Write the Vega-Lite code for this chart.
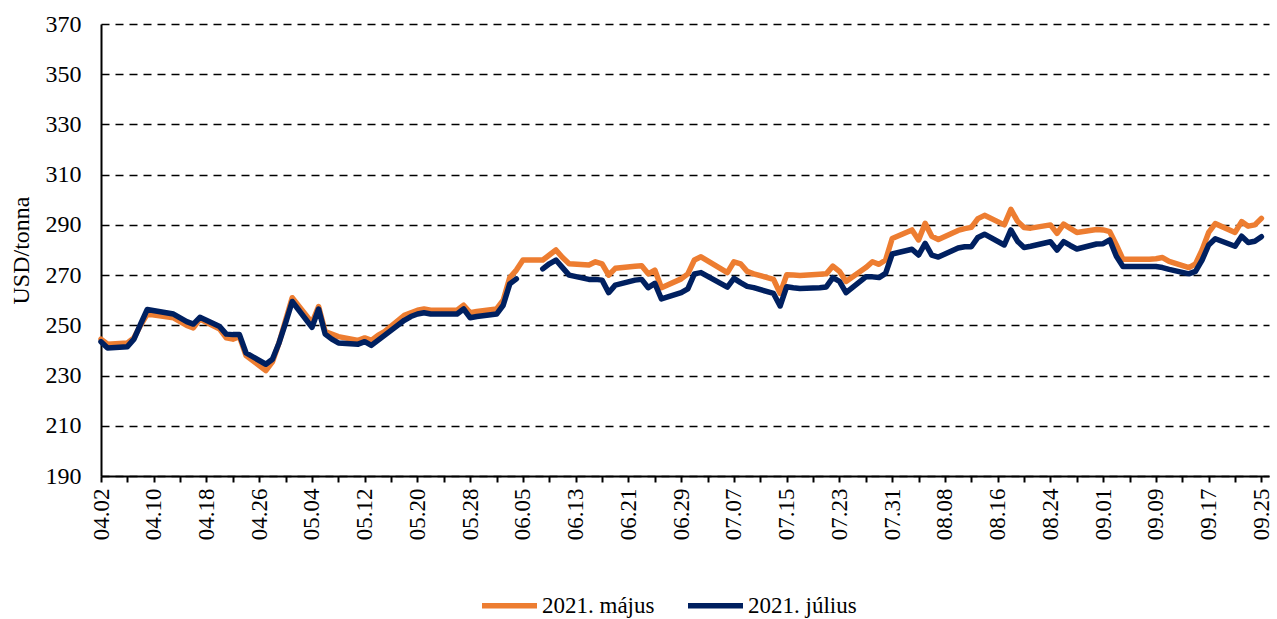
{
 "$schema": "https://vega.github.io/schema/vega-lite/v6.json",
 "width": 1168, "height": 452,
 "autosize": {"type": "none"},
 "padding": {"left": 101, "top": 24, "right": 8, "bottom": 143},
 "background": "white",
 "config": {"font": "Liberation Serif", "view": {"stroke": null}},
 "data": {"values": [
  {"date":"2020-04-02","s":"2021. május","v":244.5},{"date":"2020-04-03","s":"2021. május","v":242.5},{"date":"2020-04-06","s":"2021. május","v":243},{"date":"2020-04-07","s":"2021. május","v":245},{"date":"2020-04-08","s":"2021. május","v":250},{"date":"2020-04-09","s":"2021. május","v":254.5},{"date":"2020-04-13","s":"2021. május","v":253},{"date":"2020-04-14","s":"2021. május","v":251.5},{"date":"2020-04-15","s":"2021. május","v":250},{"date":"2020-04-16","s":"2021. május","v":249},{"date":"2020-04-17","s":"2021. május","v":252.5},{"date":"2020-04-20","s":"2021. május","v":248.5},{"date":"2020-04-21","s":"2021. május","v":245},{"date":"2020-04-22","s":"2021. május","v":244.5},{"date":"2020-04-23","s":"2021. május","v":245.5},{"date":"2020-04-24","s":"2021. május","v":238},{"date":"2020-04-27","s":"2021. május","v":232},{"date":"2020-04-28","s":"2021. május","v":235.5},{"date":"2020-04-29","s":"2021. május","v":243},{"date":"2020-04-30","s":"2021. május","v":252},
  {"date":"2020-05-01","s":"2021. május","v":261},{"date":"2020-05-04","s":"2021. május","v":251},{"date":"2020-05-05","s":"2021. május","v":257.5},{"date":"2020-05-06","s":"2021. május","v":247.5},{"date":"2020-05-07","s":"2021. május","v":246.5},{"date":"2020-05-08","s":"2021. május","v":245.5},{"date":"2020-05-11","s":"2021. május","v":244},{"date":"2020-05-12","s":"2021. május","v":245},{"date":"2020-05-13","s":"2021. május","v":244},{"date":"2020-05-14","s":"2021. május","v":246},{"date":"2020-05-15","s":"2021. május","v":247.5},{"date":"2020-05-18","s":"2021. május","v":254},{"date":"2020-05-19","s":"2021. május","v":255},{"date":"2020-05-20","s":"2021. május","v":256},{"date":"2020-05-21","s":"2021. május","v":256.5},{"date":"2020-05-22","s":"2021. május","v":256},{"date":"2020-05-26","s":"2021. május","v":256},{"date":"2020-05-27","s":"2021. május","v":258},{"date":"2020-05-28","s":"2021. május","v":255},{"date":"2020-05-29","s":"2021. május","v":255.5},
  {"date":"2020-06-01","s":"2021. május","v":256.5},{"date":"2020-06-02","s":"2021. május","v":260},{"date":"2020-06-03","s":"2021. május","v":269},{"date":"2020-06-04","s":"2021. május","v":272},{"date":"2020-06-05","s":"2021. május","v":276},{"date":"2020-06-08","s":"2021. május","v":276},{"date":"2020-06-09","s":"2021. május","v":278},{"date":"2020-06-10","s":"2021. május","v":280},{"date":"2020-06-11","s":"2021. május","v":277},{"date":"2020-06-12","s":"2021. május","v":274.5},{"date":"2020-06-15","s":"2021. május","v":274},{"date":"2020-06-16","s":"2021. május","v":275.3},{"date":"2020-06-17","s":"2021. május","v":274.5},{"date":"2020-06-18","s":"2021. május","v":270},{"date":"2020-06-19","s":"2021. május","v":272.7},{"date":"2020-06-22","s":"2021. május","v":273.5},{"date":"2020-06-23","s":"2021. május","v":273.7},{"date":"2020-06-24","s":"2021. május","v":270.5},{"date":"2020-06-25","s":"2021. május","v":272},{"date":"2020-06-26","s":"2021. május","v":265},{"date":"2020-06-29","s":"2021. május","v":268.5},{"date":"2020-06-30","s":"2021. május","v":270.5},
  {"date":"2020-07-01","s":"2021. május","v":276},{"date":"2020-07-02","s":"2021. május","v":277.3},{"date":"2020-07-06","s":"2021. május","v":271},{"date":"2020-07-07","s":"2021. május","v":275.3},{"date":"2020-07-08","s":"2021. május","v":274.5},{"date":"2020-07-09","s":"2021. május","v":271.5},{"date":"2020-07-10","s":"2021. május","v":270.5},{"date":"2020-07-13","s":"2021. május","v":268.3},{"date":"2020-07-14","s":"2021. május","v":262.7},{"date":"2020-07-15","s":"2021. május","v":270.1},{"date":"2020-07-16","s":"2021. május","v":270},{"date":"2020-07-17","s":"2021. május","v":269.8},{"date":"2020-07-20","s":"2021. május","v":270.3},{"date":"2020-07-21","s":"2021. május","v":270.5},{"date":"2020-07-22","s":"2021. május","v":273.6},{"date":"2020-07-23","s":"2021. május","v":271.5},{"date":"2020-07-24","s":"2021. május","v":267.5},{"date":"2020-07-27","s":"2021. május","v":273},{"date":"2020-07-28","s":"2021. május","v":275.3},{"date":"2020-07-29","s":"2021. május","v":274.3},{"date":"2020-07-30","s":"2021. május","v":276},{"date":"2020-07-31","s":"2021. május","v":284.6},
  {"date":"2020-08-03","s":"2021. május","v":288},{"date":"2020-08-04","s":"2021. május","v":284},{"date":"2020-08-05","s":"2021. május","v":290.6},{"date":"2020-08-06","s":"2021. május","v":285.5},{"date":"2020-08-07","s":"2021. május","v":284.2},{"date":"2020-08-10","s":"2021. május","v":287.8},{"date":"2020-08-11","s":"2021. május","v":288.5},{"date":"2020-08-12","s":"2021. május","v":289},{"date":"2020-08-13","s":"2021. május","v":292.5},{"date":"2020-08-14","s":"2021. május","v":293.8},{"date":"2020-08-17","s":"2021. május","v":290},{"date":"2020-08-18","s":"2021. május","v":296.2},{"date":"2020-08-19","s":"2021. május","v":291.5},{"date":"2020-08-20","s":"2021. május","v":289},{"date":"2020-08-21","s":"2021. május","v":288.7},{"date":"2020-08-24","s":"2021. május","v":290},{"date":"2020-08-25","s":"2021. május","v":286.6},{"date":"2020-08-26","s":"2021. május","v":290.3},{"date":"2020-08-27","s":"2021. május","v":288.6},{"date":"2020-08-28","s":"2021. május","v":287},{"date":"2020-08-31","s":"2021. május","v":288.2},
  {"date":"2020-09-01","s":"2021. május","v":288},{"date":"2020-09-02","s":"2021. május","v":287.3},{"date":"2020-09-03","s":"2021. május","v":282},{"date":"2020-09-04","s":"2021. május","v":276.3},{"date":"2020-09-08","s":"2021. május","v":276.3},{"date":"2020-09-09","s":"2021. május","v":276.5},{"date":"2020-09-10","s":"2021. május","v":277},{"date":"2020-09-11","s":"2021. május","v":275.5},{"date":"2020-09-14","s":"2021. május","v":273},{"date":"2020-09-15","s":"2021. május","v":274.5},{"date":"2020-09-16","s":"2021. május","v":280},{"date":"2020-09-17","s":"2021. május","v":287},{"date":"2020-09-18","s":"2021. május","v":290.5},{"date":"2020-09-21","s":"2021. május","v":287},{"date":"2020-09-22","s":"2021. május","v":291.3},{"date":"2020-09-23","s":"2021. május","v":289.5},{"date":"2020-09-24","s":"2021. május","v":290},{"date":"2020-09-25","s":"2021. május","v":292.6},

  {"date":"2020-04-02","s":"2021. július","v":243.5},{"date":"2020-04-03","s":"2021. július","v":241},{"date":"2020-04-06","s":"2021. július","v":241.5},{"date":"2020-04-07","s":"2021. július","v":244.5},{"date":"2020-04-08","s":"2021. július","v":250.5},{"date":"2020-04-09","s":"2021. július","v":256.3},{"date":"2020-04-13","s":"2021. július","v":254.5},{"date":"2020-04-14","s":"2021. július","v":253},{"date":"2020-04-15","s":"2021. július","v":251.5},{"date":"2020-04-16","s":"2021. július","v":250.5},{"date":"2020-04-17","s":"2021. július","v":253.2},{"date":"2020-04-20","s":"2021. július","v":249.5},{"date":"2020-04-21","s":"2021. július","v":246.5},{"date":"2020-04-22","s":"2021. július","v":246.3},{"date":"2020-04-23","s":"2021. július","v":246.3},{"date":"2020-04-24","s":"2021. július","v":239},{"date":"2020-04-27","s":"2021. július","v":234.5},{"date":"2020-04-28","s":"2021. július","v":236.5},{"date":"2020-04-29","s":"2021. július","v":243},{"date":"2020-04-30","s":"2021. július","v":251},
  {"date":"2020-05-01","s":"2021. július","v":259.5},{"date":"2020-05-04","s":"2021. július","v":249.2},{"date":"2020-05-05","s":"2021. július","v":256.5},{"date":"2020-05-06","s":"2021. július","v":246.5},{"date":"2020-05-07","s":"2021. július","v":244.5},{"date":"2020-05-08","s":"2021. július","v":243},{"date":"2020-05-11","s":"2021. július","v":242.5},{"date":"2020-05-12","s":"2021. július","v":243.5},{"date":"2020-05-13","s":"2021. július","v":242},{"date":"2020-05-14","s":"2021. július","v":244},{"date":"2020-05-15","s":"2021. július","v":246},{"date":"2020-05-18","s":"2021. július","v":252},{"date":"2020-05-19","s":"2021. július","v":253.5},{"date":"2020-05-20","s":"2021. július","v":254.5},{"date":"2020-05-21","s":"2021. július","v":255},{"date":"2020-05-22","s":"2021. július","v":254.5},{"date":"2020-05-26","s":"2021. július","v":254.5},{"date":"2020-05-27","s":"2021. július","v":256.5},{"date":"2020-05-28","s":"2021. július","v":253},{"date":"2020-05-29","s":"2021. július","v":253.5},
  {"date":"2020-06-01","s":"2021. július","v":254.5},{"date":"2020-06-02","s":"2021. július","v":258},{"date":"2020-06-03","s":"2021. július","v":266.5},{"date":"2020-06-04","s":"2021. július","v":268.5},{"date":"2020-06-05","s":"2021. július","v":null},{"date":"2020-06-08","s":"2021. július","v":272.5},{"date":"2020-06-09","s":"2021. július","v":274.5},{"date":"2020-06-10","s":"2021. július","v":276},{"date":"2020-06-11","s":"2021. július","v":273},{"date":"2020-06-12","s":"2021. július","v":270},{"date":"2020-06-15","s":"2021. július","v":268.3},{"date":"2020-06-16","s":"2021. július","v":268.3},{"date":"2020-06-17","s":"2021. július","v":268},{"date":"2020-06-18","s":"2021. július","v":263},{"date":"2020-06-19","s":"2021. július","v":266},{"date":"2020-06-22","s":"2021. július","v":268},{"date":"2020-06-23","s":"2021. július","v":268.3},{"date":"2020-06-24","s":"2021. július","v":265},{"date":"2020-06-25","s":"2021. július","v":266.7},{"date":"2020-06-26","s":"2021. július","v":260.5},{"date":"2020-06-29","s":"2021. július","v":263},{"date":"2020-06-30","s":"2021. július","v":264.5},
  {"date":"2020-07-01","s":"2021. július","v":270.5},{"date":"2020-07-02","s":"2021. július","v":271},{"date":"2020-07-06","s":"2021. július","v":265.2},{"date":"2020-07-07","s":"2021. július","v":268.7},{"date":"2020-07-08","s":"2021. július","v":267},{"date":"2020-07-09","s":"2021. július","v":265.5},{"date":"2020-07-10","s":"2021. július","v":265},{"date":"2020-07-13","s":"2021. július","v":262.7},{"date":"2020-07-14","s":"2021. július","v":257.7},{"date":"2020-07-15","s":"2021. július","v":265.4},{"date":"2020-07-16","s":"2021. július","v":265},{"date":"2020-07-17","s":"2021. július","v":264.7},{"date":"2020-07-20","s":"2021. július","v":265},{"date":"2020-07-21","s":"2021. július","v":265.3},{"date":"2020-07-22","s":"2021. július","v":269},{"date":"2020-07-23","s":"2021. július","v":267.5},{"date":"2020-07-24","s":"2021. július","v":263},{"date":"2020-07-27","s":"2021. július","v":269.3},{"date":"2020-07-28","s":"2021. július","v":269.3},{"date":"2020-07-29","s":"2021. július","v":269},{"date":"2020-07-30","s":"2021. július","v":270.7},{"date":"2020-07-31","s":"2021. július","v":278.4},
  {"date":"2020-08-03","s":"2021. július","v":280.3},{"date":"2020-08-04","s":"2021. július","v":278},{"date":"2020-08-05","s":"2021. július","v":282.6},{"date":"2020-08-06","s":"2021. július","v":278},{"date":"2020-08-07","s":"2021. július","v":277.2},{"date":"2020-08-10","s":"2021. július","v":280.8},{"date":"2020-08-11","s":"2021. július","v":281.3},{"date":"2020-08-12","s":"2021. július","v":281.3},{"date":"2020-08-13","s":"2021. július","v":285},{"date":"2020-08-14","s":"2021. július","v":286.3},{"date":"2020-08-17","s":"2021. július","v":282},{"date":"2020-08-18","s":"2021. július","v":288},{"date":"2020-08-19","s":"2021. július","v":283.5},{"date":"2020-08-20","s":"2021. július","v":281},{"date":"2020-08-21","s":"2021. július","v":281.5},{"date":"2020-08-24","s":"2021. július","v":283.3},{"date":"2020-08-25","s":"2021. július","v":280},{"date":"2020-08-26","s":"2021. július","v":283.3},{"date":"2020-08-27","s":"2021. július","v":281.8},{"date":"2020-08-28","s":"2021. július","v":280.4},{"date":"2020-08-31","s":"2021. július","v":282.4},
  {"date":"2020-09-01","s":"2021. július","v":282.5},{"date":"2020-09-02","s":"2021. július","v":284},{"date":"2020-09-03","s":"2021. július","v":277.5},{"date":"2020-09-04","s":"2021. július","v":273.4},{"date":"2020-09-08","s":"2021. július","v":273.4},{"date":"2020-09-09","s":"2021. július","v":273.4},{"date":"2020-09-10","s":"2021. július","v":273},{"date":"2020-09-11","s":"2021. július","v":272.3},{"date":"2020-09-14","s":"2021. július","v":270.5},{"date":"2020-09-15","s":"2021. július","v":271.5},{"date":"2020-09-16","s":"2021. július","v":276},{"date":"2020-09-17","s":"2021. július","v":282},{"date":"2020-09-18","s":"2021. július","v":284.5},{"date":"2020-09-21","s":"2021. július","v":281.5},{"date":"2020-09-22","s":"2021. július","v":285.5},{"date":"2020-09-23","s":"2021. július","v":283},{"date":"2020-09-24","s":"2021. július","v":283.5},{"date":"2020-09-25","s":"2021. július","v":285.3}
 ]},
 "mark": {"type": "line", "strokeWidth": 5.5, "strokeJoin": "round", "strokeCap": "round", "invalid": "break-paths-show-domains"},
 "encoding": {
  "x": {
   "field": "date", "type": "temporal",
   "scale": {"type": "utc", "domain": [1585785600000, 1601091360000], "nice": false},
   "axis": {
    "values": [1585785600000,1586131200000,1586476800000,1586822400000,1587168000000,1587513600000,1587859200000,1588204800000,1588550400000,1588896000000,1589241600000,1589587200000,1589932800000,1590278400000,1590624000000,1590969600000,1591315200000,1591660800000,1592006400000,1592352000000,1592697600000,1593043200000,1593388800000,1593734400000,1594080000000,1594425600000,1594771200000,1595116800000,1595462400000,1595808000000,1596153600000,1596499200000,1596844800000,1597190400000,1597536000000,1597881600000,1598227200000,1598572800000,1598918400000,1599264000000,1599609600000,1599955200000,1600300800000,1600646400000,1600992000000],
    "labelExpr": "(round((datum.value - 1585785600000) / 86400000) % 8 == 0) ? utcFormat(datum.value, '%m.%d') : ''",
    "labelAngle": 270, "labelAlign": "right", "labelBaseline": "middle",
    "labelFontSize": 23, "labelColor": "black", "labelPadding": 6,
    "labelOverlap": false, "labelBound": false, "labelFlush": false,
    "tickSize": 6, "tickColor": "black", "tickWidth": 2,
    "domainColor": "black", "domainWidth": 2,
    "grid": false, "title": null
   }
  },
  "y": {
   "field": "v", "type": "quantitative",
   "scale": {"domain": [190, 370], "nice": false, "zero": false},
   "axis": {
    "values": [190,210,230,250,270,290,310,330,350,370],
    "grid": true, "gridColor": "black", "gridDash": [8, 6], "gridWidth": 1.5,
    "ticks": false, "labelFontSize": 24, "labelColor": "black", "labelPadding": 20,
    "domainColor": "black", "domainWidth": 2,
    "title": "USD/tonna", "titleFontSize": 24, "titleFontWeight": "normal", "titleColor": "black", "titlePadding": 12
   }
  },
  "color": {
   "field": "s", "type": "nominal",
   "scale": {"domain": ["2021. május", "2021. július"], "range": ["#ED7D31", "#002060"]},
   "legend": {
    "orient": "none", "legendX": 378, "legendY": 551, "direction": "horizontal", "title": null,
    "symbolType": "stroke", "symbolSize": 3025, "symbolStrokeWidth": 5.5,
    "labelFontSize": 23, "labelColor": "black", "labelFont": "Liberation Serif",
    "columnPadding": 22, "labelOffset": 2
   }
  }
 }
}
